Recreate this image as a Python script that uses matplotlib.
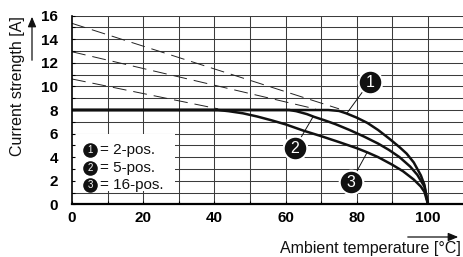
import matplotlib
matplotlib.use("Agg")
import matplotlib.pyplot as plt
from matplotlib.patches import Rectangle, FancyArrowPatch

plt.rcParams['font.family'] = ['Liberation Sans', 'DejaVu Sans']
plt.rcParams['lines.scale_dashes'] = False

# --- data ---
temp_2pos = [0, 72, 75, 77, 80, 83, 86, 89, 92, 94, 96, 98, 99, 100]
curr_2pos = [8, 8, 7.92, 7.72, 7.35, 6.9, 6.3, 5.6, 4.85, 4.3, 3.55, 2.45, 1.65, 0]

temp_5pos = [0, 61, 63, 66, 68, 71, 74, 78, 82, 86, 89, 92, 95, 97, 99, 100]
curr_5pos = [8, 8, 7.9, 7.65, 7.42, 7.12, 6.8, 6.3, 5.75, 5.15, 4.62, 4.0, 3.2, 2.5, 1.5, 0]

temp_16pos = [0, 41, 44, 48, 52, 56, 60, 65, 70, 75, 80, 83, 86, 90, 93, 96, 98, 99, 100]
curr_16pos = [8, 8, 7.9, 7.72, 7.45, 7.13, 6.78, 6.25, 5.78, 5.28, 4.76, 4.4, 4.0, 3.35, 2.8, 2.1, 1.5, 1.05, 0]

dash_upper_t = [0, 75]
dash_upper_i = [15.35, 8.1]
dash_mid_t = [0, 68.5]
dash_mid_i = [12.94, 8.08]
dash_low_t = [0, 41]
dash_low_i = [10.63, 8.1]

x_ticks = [0, 20, 40, 60, 80, 100]
y_ticks = [0, 2, 4, 6, 8, 10, 12, 14, 16]
legend_labels = ['= 2-pos.', '= 5-pos.', '= 16-pos.']
legend_nums = ['1', '2', '3']

# callouts: (number, label position, point on curve)
callout_nums = ['1', '2', '3']
callout_label_t = [83.7, 62.6, 78.4]
callout_label_i = [10.4, 4.78, 1.92]
callout_pt_t = [77.2, 67.7, 82.9]
callout_pt_i = [7.72, 7.42, 4.4]

W, H = 463, 257
fig = plt.figure(figsize=(W / 100, H / 100), dpi=100)
ax = fig.add_axes([72 / W, 52.7 / H, 391.6 / W, 188.6 / H])
ax.set_xlim(0, 110)
ax.set_ylim(0, 16)

gc = '#3c3c3c'
for x in range(10, 111, 10):
    ax.axvline(x, color=gc, lw=0.75, zorder=1)
for y in range(1, 17):
    ax.axhline(y, color=gc, lw=0.75, zorder=1)

# legend box
ax.add_patch(Rectangle((0.3, 1.15), 28.7, 4.85, facecolor='white', edgecolor='none', zorder=1.5))

# dashed lines
for t, i in [(dash_upper_t, dash_upper_i), (dash_mid_t, dash_mid_i), (dash_low_t, dash_low_i)]:
    ax.plot(t, i, color='#222222', lw=0.7, dashes=(10, 5), zorder=2)

# curves
for t, i in [(temp_2pos, curr_2pos), (temp_5pos, curr_5pos), (temp_16pos, curr_16pos)]:
    ax.plot(t, i, color='#111111', lw=1.8, solid_joinstyle='round', zorder=3)

# callouts
for n, lt, li, pt, pi in zip(callout_nums, callout_label_t, callout_label_i, callout_pt_t, callout_pt_i):
    ax.annotate('', xy=(pt, pi), xytext=(lt, li),
                arrowprops=dict(arrowstyle='-', color='#111111', lw=0.7, shrinkA=8, shrinkB=0), zorder=4)
    ax.plot([lt], [li], marker='o', ms=17, mfc='#111111', mec='white', mew=1.5, zorder=5, clip_on=False)
    ax.text(lt, li - 0.05, n, color='white', fontsize=11.5, ha='center', va='center', zorder=6)

# legend entries
leg_y = [4.6, 3.1, 1.65]
for n, lab, y in zip(legend_nums, legend_labels, leg_y):
    ax.plot([5.1], [y], marker='o', ms=10.5, mfc='#111111', mec='none', zorder=5)
    ax.text(5.1, y - 0.03, n, color='white', fontsize=7, ha='center', va='center', zorder=6)
    ax.text(8.0, y, lab, color='#111111', fontsize=11, ha='left', va='center', zorder=6)

ax.set_xticks(x_ticks)
ax.set_xticks(range(10, 111, 20), minor=True)
ax.set_yticks(y_ticks)
ax.set_yticks(range(1, 16, 2), minor=True)
ax.set_xticklabels([str(v) for v in x_ticks], fontweight='bold', fontsize=11)
ax.set_yticklabels([str(v) for v in y_ticks], fontweight='bold', fontsize=11)
ax.tick_params(which='both', direction='in', length=2.5, width=0.8, color='black')
ax.tick_params(axis='y', which='major', pad=10)
ax.tick_params(axis='x', which='major', pad=4.5)

for s in ['top', 'right']:
    ax.spines[s].set_visible(False)
ax.spines['left'].set_linewidth(1.2)
ax.spines['bottom'].set_linewidth(1.6)
ax.spines['left'].set_zorder(4)
ax.spines['bottom'].set_zorder(4)

# axis labels with arrows
fig.text(18 / W, 1 - 86 / H, 'Current strength [A]', rotation=90, ha='center', va='center',
         fontsize=11.5, color='#111111')
fig.add_artist(FancyArrowPatch((32 / W, 1 - 63 / H), (32 / W, 1 - 14 / H),
               transform=fig.transFigure, arrowstyle='-|>,head_length=6,head_width=2.5',
               color='#111111', lw=0.9, mutation_scale=1))
fig.text(461 / W, 1 - 248 / H, 'Ambient temperature [°C]', ha='right', va='center',
         fontsize=11.5, color='#111111')
fig.add_artist(FancyArrowPatch((405 / W, 1 - 237 / H), (461 / W, 1 - 237 / H),
               transform=fig.transFigure, arrowstyle='-|>,head_length=6,head_width=2.5',
               color='#111111', lw=0.9, mutation_scale=1))

fig.savefig('out.png', dpi=100)
